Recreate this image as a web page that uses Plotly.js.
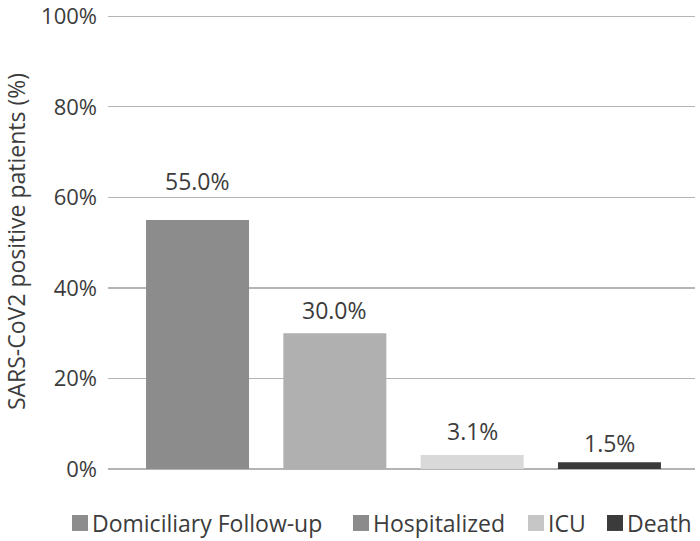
<!DOCTYPE html>
<html>
<head>
<meta charset="utf-8">
<script src="https://cdn.plot.ly/plotly-3.0.1.min.js"></script>
<style>html,body{margin:0;padding:0;background:#fff}#chart{width:700px;height:541px}</style>
</head>
<body>
<div id="chart"></div>
<script>
const categories = ["Domiciliary Follow-up", "Hospitalized", "ICU", "Death"];
const values = [55.0, 30.0, 3.1, 1.5];
const valueLabels = ["55.0%", "30.0%", "3.1%", "1.5%"];
const yTickValues = [0, 20, 40, 60, 80, 100];
const yTickLabels = ["0%", "20%", "40%", "60%", "80%", "100%"];

// styling
const barColors = ["#8c8c8c", "#b0b0b0", "#d9d9d9", "#3a3a3a"];
const legendColors = ["#8d8d8d", "#8b8b8b", "#c6c6c6", "#3b3b3b"];
const labelGaps = [39, 23, 24, 19];
const legendLeftPx = [72, 353, 528, 607];   // legend swatch left edges (px)
const FONT = "Open Sans, Noto Sans, sans-serif";
const TEXT = "#3c3c3c";

const M = {l: 108, r: 5, t: 13.7, b: 72};
const W = 700, H = 541;
const plotW = W - M.l - M.r, plotH = H - M.t - M.b;
const px2x = p => (p - M.l) / plotW;
const px2y = p => (H - M.b - p) / plotH;

const traces = categories.map((c, i) => ({
  type: "bar",
  name: c,
  x: [i],
  y: [values[i]],
  width: 0.75,
  marker: {color: barColors[i], line: {width: 0}},
  hoverinfo: "skip",
  showlegend: false
}));

const annotations = categories.map((c, i) => ({
  x: i, y: values[i], xref: "x", yref: "y",
  text: valueLabels[i], showarrow: false,
  yanchor: "middle", yshift: labelGaps[i],
  font: {family: FONT, size: 23, color: TEXT}
}));

const shapes = [];
categories.forEach((c, i) => {
  const x0 = legendLeftPx[i];
  shapes.push({
    type: "rect", xref: "paper", yref: "paper", layer: "above",
    x0: px2x(x0), x1: px2x(x0 + 16), y0: px2y(531), y1: px2y(515),
    fillcolor: legendColors[i], line: {width: 0}
  });
  annotations.push({
    xref: "paper", yref: "paper", x: px2x(x0 + 18), y: px2y(523),
    xanchor: "left", yanchor: "middle", showarrow: false,
    text: c, font: {family: FONT, size: 23, color: TEXT}
  });
});

const layout = {
  width: W, height: H,
  margin: M,
  paper_bgcolor: "#fff", plot_bgcolor: "#fff",
  barmode: "overlay",
  showlegend: false,
  xaxis: {
    range: [-0.652, 3.623],
    showticklabels: false, showgrid: false, zeroline: false,
    showline: false, ticks: "", fixedrange: true
  },
  yaxis: {
    range: [0, 100.5],
    tickmode: "array", tickvals: yTickValues, ticktext: yTickLabels,
    showgrid: true, gridcolor: "#b4b4b4", gridwidth: 1.3,
    zeroline: true, zerolinecolor: "#b4b4b4", zerolinewidth: 1.3,
    showline: false, ticks: "", ticklen: 0, ticklabelstandoff: 10,
    ticklabeloverflow: "allow",
    tickfont: {family: FONT, size: 22, color: TEXT},
    title: {text: "SARS-CoV2 positive patients (%)", standoff: 22,
      font: {family: FONT, size: 23, color: TEXT}},
    automargin: false
  },
  shapes: shapes,
  annotations: annotations
};

Plotly.newPlot("chart", traces, layout, {displayModeBar: false, staticPlot: true});
</script>
</body>
</html>
